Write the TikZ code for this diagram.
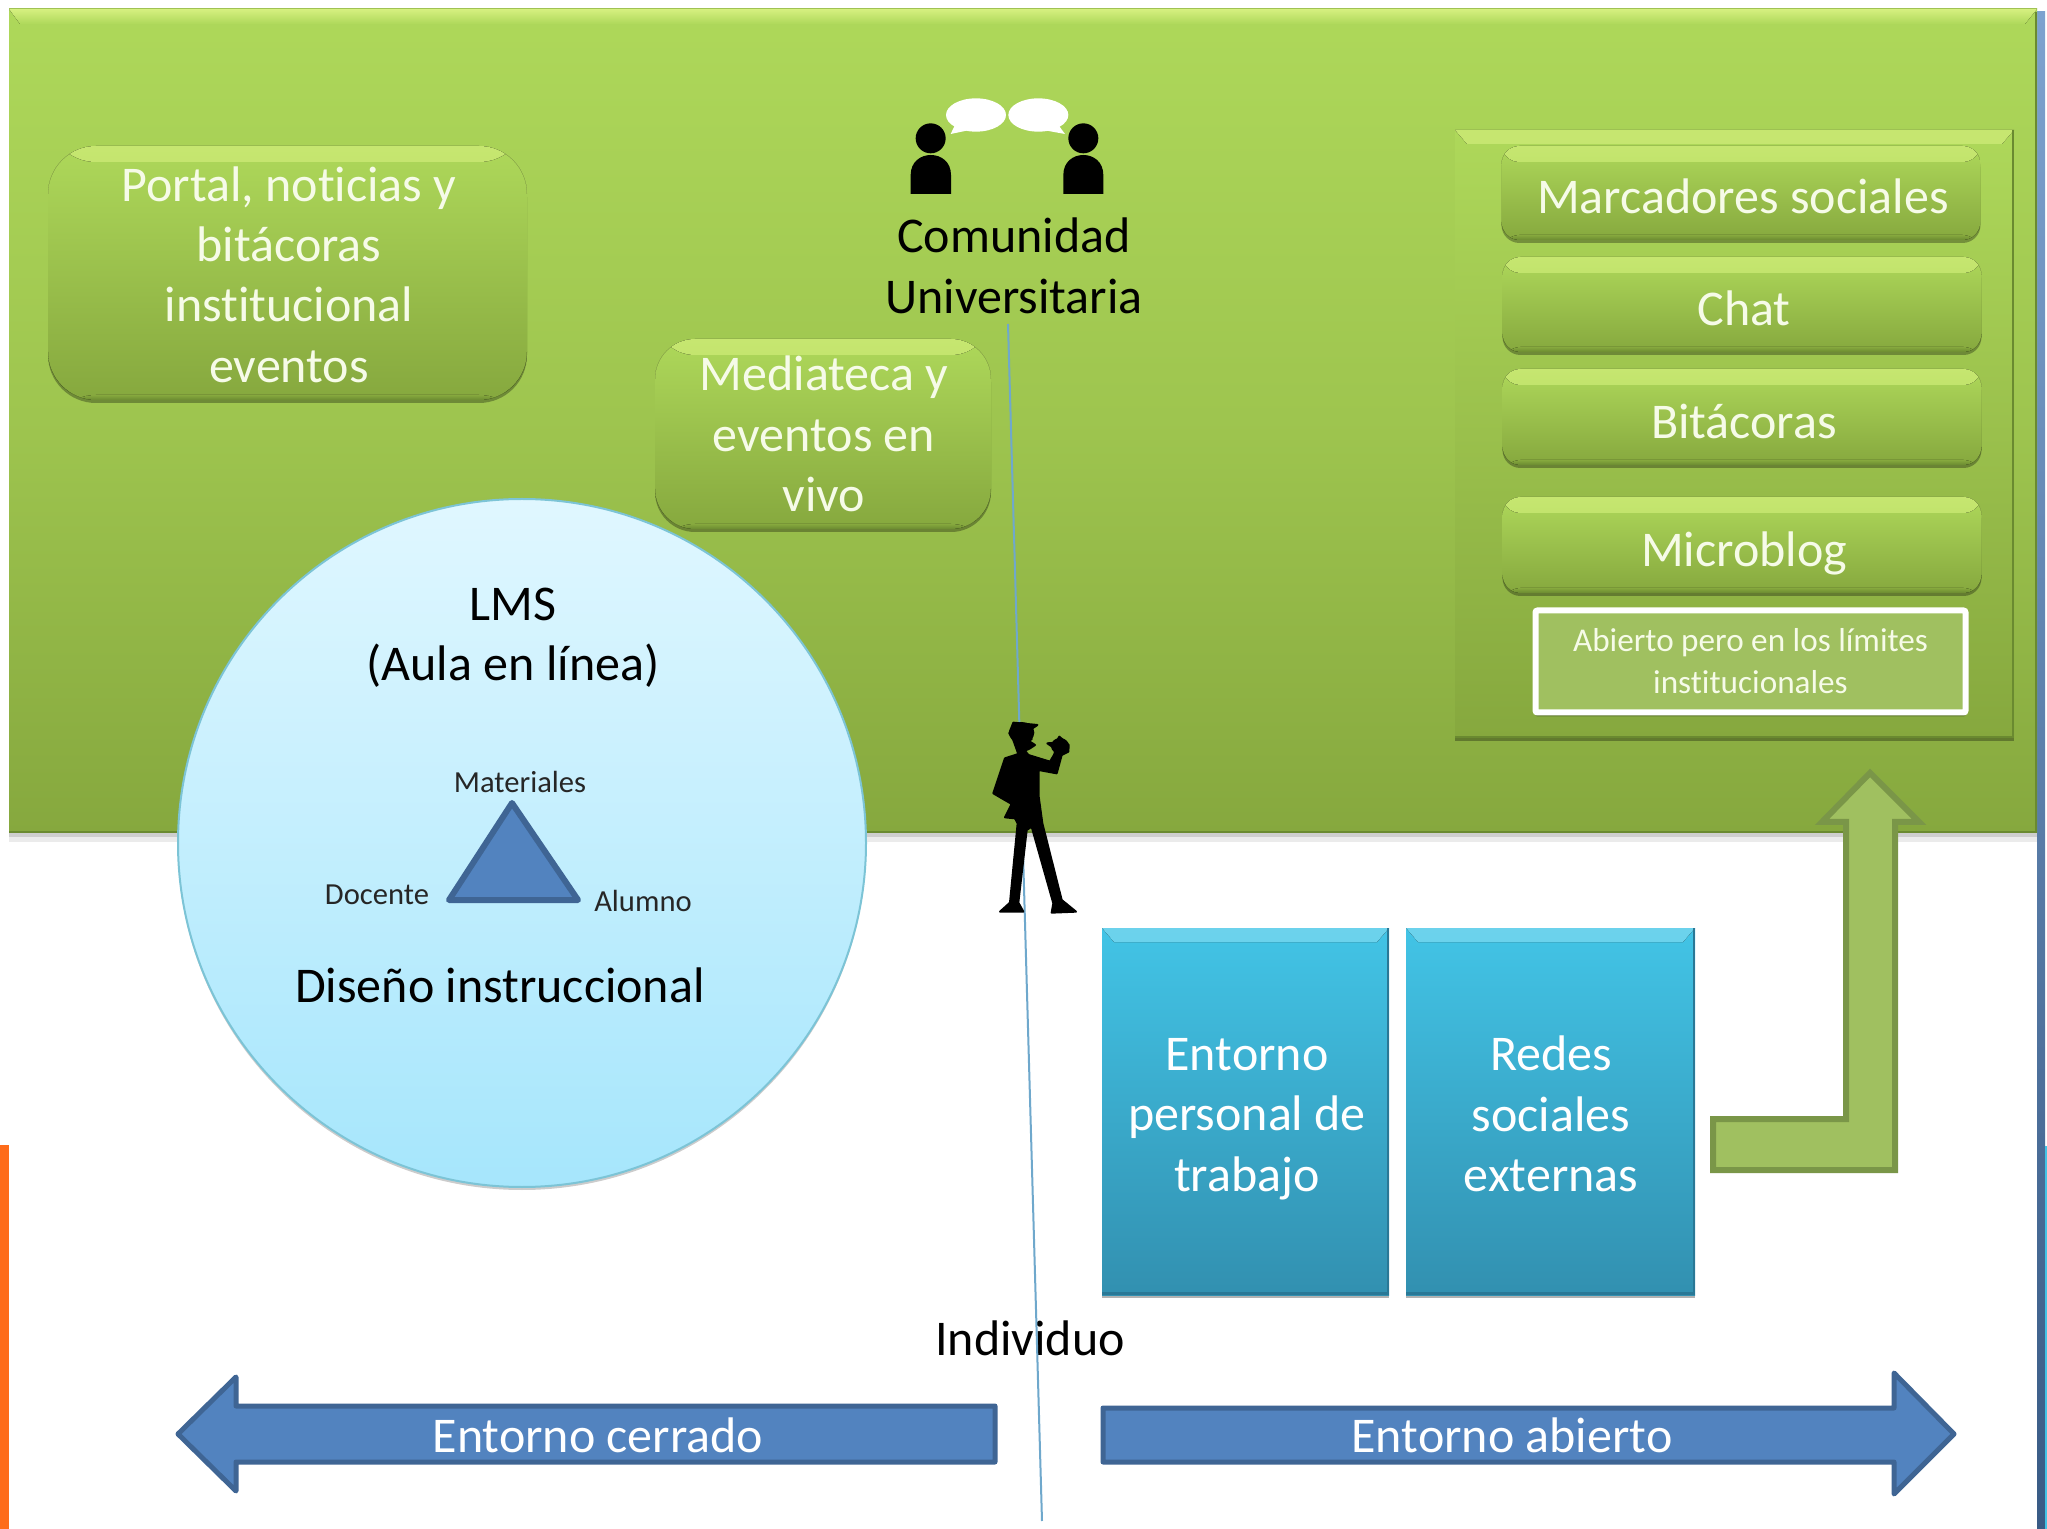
\documentclass[tikz,border=0pt]{standalone}
\usepackage{fontspec}
\setmainfont[Ligatures=NoCommon]{Carlito}
\usetikzlibrary{shadows}
\definecolor{gtop}{HTML}{AED85A}
\definecolor{gbot}{HTML}{86A83E}
\definecolor{gstrip}{HTML}{D6F080}
\definecolor{gsoft}{HTML}{C6E670}
\definecolor{gedge}{HTML}{6A8A30}
\definecolor{ctop}{HTML}{42C4E6}
\definecolor{cbot}{HTML}{3290B0}
\definecolor{cstrip}{HTML}{6CD2EC}
\definecolor{cedge}{HTML}{2A7896}
\definecolor{ablue}{HTML}{5283BF}
\definecolor{ablueE}{HTML}{3F6594}
\definecolor{lgreen}{HTML}{A0C060}
\definecolor{lgreenE}{HTML}{7A9648}
\definecolor{vline}{HTML}{6FA8CC}
\definecolor{softtxt}{HTML}{F6FBE8}
\definecolor{orangebar}{RGB}{254,108,26}
\definecolor{circtop}{HTML}{E0F7FF}
\definecolor{circbot}{HTML}{A6E6FC}
\definecolor{circedge}{HTML}{7CC4D6}
\tikzset{
  softshadow/.style={drop shadow={shadow xshift=0pt,shadow yshift=-1.5pt,opacity=.3,fill=black}},
  gbutton/.style={rounded corners=#1, top color=gtop, bottom color=gbot, inner sep=0pt, softshadow,
    path picture={
      \fill[top color=gsoft,bottom color=gtop] (path picture bounding box.north west) rectangle ([yshift=-8pt]path picture bounding box.north east);
      \fill[top color=gbot,bottom color=gedge] ([yshift=2.5pt]path picture bounding box.south west) rectangle (path picture bounding box.south east);
    }},
  gtxt/.style={inner sep=0pt, align=center, text=softtxt, font=\fontsize{25}{30.2}\selectfont},
  cbox/.style={top color=ctop, bottom color=cbot, inner sep=0pt, softshadow,
    path picture={
      \fill[top color=cstrip,bottom color=ctop] (path picture bounding box.north west) -- (path picture bounding box.north east) -- ([xshift=-6pt,yshift=-7pt]path picture bounding box.north east) -- ([xshift=6pt,yshift=-7pt]path picture bounding box.north west) -- cycle;
      \fill[cedge] ([yshift=1.5pt]path picture bounding box.south west) rectangle (path picture bounding box.south east);
      \fill[cedge] ([xshift=-1pt]path picture bounding box.south east) rectangle (path picture bounding box.north east);
    }},
  ctxt/.style={inner sep=0pt, align=center, text=white, font=\fontsize{25}{30.2}\selectfont},
  blacktxt/.style={align=center, inner sep=0pt, text=black, font=\fontsize{25}{30.2}\selectfont},
  smalltxt/.style={inner sep=0pt, text=black!85, font=\fontsize{15.3}{18}\selectfont},
  whitetxt/.style={inner sep=0pt, text=white, font=\fontsize{25}{30}\selectfont},
  bigarrow/.style={fill=ablue, draw=ablueE, line width=2.5pt, line join=round},
  uparrow/.style={fill=lgreen, draw=lgreenE, line width=3pt, line join=miter},
  guide/.style={draw=vline, line width=1pt},
  silhouette/.style={fill=black, draw=none},
  bubble/.style={fill=white, draw=none}
}
\begin{document}
\begin{tikzpicture}[x=0.5pt,y=-0.5pt]
\useasboundingbox (0,0) rectangle (2047,1529);
\fill[white] (0,0) rectangle (2047,1529);
% side strips
\fill[top color=ablue!75!white,bottom color=ablueE!90!black] (2037,12) rectangle (2045,1529);
\fill[ctop] (2045,1146) rectangle (2047,1529);
\fill[orangebar] (0,1145) rectangle (9,1529);
% band
\fill[black,opacity=.08] (9,832) rectangle (2037,842);
\fill[black,opacity=.12] (9,832) rectangle (2037,837);
\fill[top color=gtop,bottom color=gbot,middle color=gtop!60!gbot] (9,9) rectangle (2037,833);
\fill[top color=gstrip,bottom color=gtop] (9,9) -- (2037,9) -- (2025,24) -- (20,24) -- cycle;
\fill[gedge] (9,831) rectangle (2037,833);
\fill[gedge] (2035,12) rectangle (2037,833);
% panel
\node[minimum width=279.5pt,minimum height=304pt,inner sep=0pt,top color=gtop,bottom color=gbot,softshadow,
  path picture={
    \fill[top color=gsoft,bottom color=gtop] (path picture bounding box.north west) -- (path picture bounding box.north east) -- ([xshift=-6pt,yshift=-7pt]path picture bounding box.north east) -- ([xshift=6pt,yshift=-7pt]path picture bounding box.north west) -- cycle;
    \fill[gedge] ([yshift=1pt]path picture bounding box.south west) rectangle (path picture bounding box.south east);
    \fill[gedge] ([xshift=-1pt]path picture bounding box.south east) rectangle (path picture bounding box.north east);
  }] (panel) at (1734.5,434) {};
% green rounded boxes
\node[gbutton=24pt,minimum width=239.5pt,minimum height=127pt] (portal) at (287.5,273) {};
\node[gtxt] (portaltxt) at (289,274.5) {Portal, noticias y\\bitácoras\\institucional\\eventos};
\node[gbutton=20pt,minimum width=168pt,minimum height=95pt] (media) at (823,434) {};
\node[gtxt] (mediatxt) at (824,434) {Mediateca y\\eventos en\\vivo};
\node[gbutton=9pt,minimum width=239.5pt,minimum height=47pt] (marc) at (1741,193) {};
\node[gtxt] (marctxt) at (1743,196) {Marcadores sociales};
\node[gbutton=9pt,minimum width=239.5pt,minimum height=47.5pt] (chat) at (1742,304.5) {};
\node[gtxt] (chattxt) at (1744,308) {Chat};
\node[gbutton=9pt,minimum width=239.5pt,minimum height=48pt] (bita) at (1742,417) {};
\node[gtxt] (bitatxt) at (1744,421) {Bitácoras};
\node[gbutton=9pt,minimum width=239.5pt,minimum height=48pt] (micro) at (1742,545) {};
\node[gtxt] (microtxt) at (1744,553) {Microblog};
\node[draw=white,line width=3pt,fill=lgreen,rounded corners=1pt,minimum width=215pt,minimum height=51pt,
  inner sep=0pt,align=center,text=softtxt,font=\fontsize{16.6}{21}\selectfont,
  drop shadow={shadow xshift=0pt,shadow yshift=-2pt,opacity=.3,fill=black}] (abierto) at (1750.5,661.5)
  {Abierto pero en los límites\\institucionales};
% guide line
\coordinate (lineTop) at (1008,324);
\coordinate (lineEnd) at (1042,1521);
% circle
\node[circle,minimum size=344pt,inner sep=0pt,top color=circtop,bottom color=circbot,draw=circedge,line width=1pt,
  drop shadow={shadow xshift=0pt,shadow yshift=-1.5pt,opacity=.2,fill=black}] (lms) at (522,843) {};
\node[blacktxt] (lmstxt) at (513,638) {LMS\\(Aula en línea)};
\node[blacktxt] (diseno) at (500,985) {Diseño instruccional};
\draw[fill=ablue,draw=ablueE,line width=3pt,line join=round] (512,803) -- (578,900) -- (449,900) -- cycle;
\node[smalltxt] (mat) at (520,782) {Materiales};
\node[smalltxt] (doc) at (377,895) {Docente};
\node[smalltxt] (alu) at (643,901) {Alumno};
% community icon
\begin{scope}[shift={(850,60)},scale=1/3]
  \fill[bubble] (378,165) ellipse [x radius=90,y radius=50];
  \fill[bubble] (315,195) -- (302,222) -- (350,212) -- cycle;
  \fill[bubble] (565,165) ellipse [x radius=90,y radius=50];
  \fill[bubble] (625,195) -- (645,222) -- (590,212) -- cycle;
  \fill[silhouette] (242,235) circle [radius=45];
  \fill[silhouette] (700,235) circle [radius=45];
  \fill[silhouette] (182,402) -- (182,345) .. controls (182,265) and (303,265) .. (303,345) -- (303,402) -- cycle;
  \fill[silhouette] (640,402) -- (640,345) .. controls (640,265) and (760,265) .. (760,345) -- (760,402) -- cycle;
\end{scope}
\node[blacktxt] (comun) at (1014,266) {Comunidad\\Universitaria};
\node[blacktxt] (indiv) at (1030,1338) {Individuo};
\draw[guide] (lineTop) -- (lineEnd);
% person
\begin{scope}[shift={(950,680)},scale=1/3]
  \fill[silhouette] (215,158) ellipse [x radius=38,y radius=32];
  \fill[silhouette] (330,198) ellipse [x radius=27,y radius=24];
  \filldraw[fill=black,draw=black,line width=1pt,line join=round] (190,128) -- (262,135) -- (240,150) -- (245,178) -- (235,182) -- (255,195) -- (240,205) -- (225,212) -- (235,225) -- (300,245) -- (312,225) -- (318,208) -- (292,190) -- (318,188) -- (328,170) -- (356,195) -- (355,215) -- (335,225) -- (320,280) -- (266,270) -- (266,350) -- (277,430) -- (335,660) -- (378,695) -- (305,698) -- (310,670) -- (245,440) -- (230,450) -- (205,668) -- (220,695) -- (150,695) -- (180,668) -- (203,430) -- (195,415) -- (165,412) -- (185,372) -- (130,340) -- (165,235) -- (205,222) -- (190,180) -- (178,160) -- cycle;
\end{scope}
% cyan boxes
\node[cbox,minimum width=143.5pt,minimum height=183.5pt] (personal) at (1245.5,1111.5) {};
\node[cbox,minimum width=144.5pt,minimum height=183.5pt] (redes) at (1550.5,1111.5) {};
\node[ctxt] (personaltxt) at (1247,1119) {Entorno\\personal de\\trabajo};
\node[ctxt] (redestxt) at (1551,1114) {Redes\\sociales\\externas};
% up arrow
\draw[uparrow] (1713,1170) -- (1713,1119) -- (1846,1119) -- (1846,822) -- (1822,822) -- (1870,773) -- (1919,822) -- (1895,822) -- (1895,1170) -- cycle;
% horizontal arrows
\draw[bigarrow] (178,1434) -- (236,1377) -- (236,1406) -- (995,1406) -- (995,1462) -- (236,1462) -- (236,1491) -- cycle;
\draw[bigarrow] (1954,1434) -- (1894,1373) -- (1894,1408) -- (1103,1408) -- (1103,1462) -- (1894,1462) -- (1894,1494) -- cycle;
\node[whitetxt] (cerrado) at (598,1435) {Entorno cerrado};
\node[whitetxt] (abiertoA) at (1512,1435) {Entorno abierto};
\end{tikzpicture}
\end{document}
